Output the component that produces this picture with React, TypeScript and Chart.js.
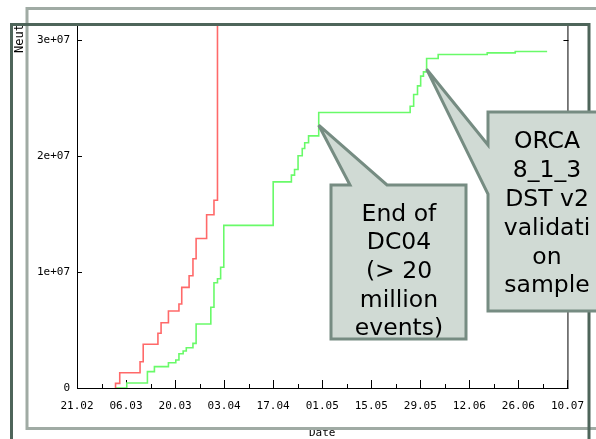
import React, { useEffect, useRef } from "react";
import { Chart, registerables } from "chart.js";

Chart.register(...registerables);

// ---- axis ticks ----
const xTickDays = [0, 14, 28, 42, 56, 70, 84, 98, 112, 126, 140];
const xTickLabels = ["21.02", "06.03", "20.03", "03.04", "17.04", "01.05", "15.05", "29.05", "12.06", "26.06", "10.07"];
const yTickValues = [0, 1e7, 2e7, 3e7];
const yTickLabels = ["0", "1e+07", "2e+07", "3e+07"];

// ---- series (days after 21.02, cumulative events) ----
const redDays = [11.0, 11.0, 12.2, 18.0, 18.9, 23.1, 24.0, 26.1, 29.1, 29.9, 32.0, 33.1, 34.0, 37.0, 39.1, 40.1];
const redEvents = [0, 0.4e6, 1.32e6, 2.27e6, 3.77e6, 4.72e6, 5.63e6, 6.64e6, 7.24e6, 8.68e6, 9.68e6, 11.15e6, 12.9e6, 14.94e6, 16.2e6, 45e6];

const greenDays = [11.0, 14.2, 20.1, 22.1, 26.1, 28.2, 29.1, 30.3, 31.2, 33.1, 34.0, 38.2, 39.1, 40.1, 41.0, 41.9, 56.0, 61.2, 62.1, 63.1, 64.3, 65.0, 66.1, 69.0, 95.1, 96.1, 97.2, 98.1, 98.9, 99.8, 103.1, 117.1, 125.1, 134.2];
const greenEvents = [0, 0.43e6, 1.41e6, 1.84e6, 2.18e6, 2.41e6, 2.96e6, 3.19e6, 3.47e6, 3.85e6, 5.52e6, 6.96e6, 9.08e6, 9.42e6, 10.41e6, 14.03e6, 17.78e6, 18.36e6, 18.85e6, 20.03e6, 20.66e6, 21.15e6, 21.75e6, 23.77e6, 24.31e6, 25.32e6, 26.06e6, 26.9e6, 27.27e6, 28.42e6, 28.77e6, 28.91e6, 29.03e6, 29.03e6];

// ---- callouts ----
const dc04Lines = ["End of", "DC04", "(> 20", "million", "events)"];
const dc04Tip = [69.0, 22.67e6];
const orcaLines = ["ORCA", "8_1_3", "DST v2", "validati", "on", "sample"];
const orcaTip = [99.8, 27.5e6];

const MONO = '"DejaVu Sans Mono", monospace';

function drawCallout(ctx: CanvasRenderingContext2D, pts: number[][], lines: string[], cx: number, base0: number, step: number) {
  ctx.beginPath();
  pts.forEach(([px, py], i) => (i ? ctx.lineTo(px, py) : ctx.moveTo(px, py)));
  ctx.closePath();
  ctx.fillStyle = "#d0dad4";
  ctx.fill();
  ctx.lineWidth = 3;
  ctx.lineJoin = "miter";
  ctx.miterLimit = 3;
  ctx.strokeStyle = "#768c82";
  ctx.stroke();
  ctx.fillStyle = "#000";
  ctx.font = '23.5px "DejaVu Sans"';
  ctx.textAlign = "center";
  ctx.textBaseline = "alphabetic";
  lines.forEach((t, i) => ctx.fillText(t, cx, base0 + i * step));
}

const decorPlugin = {
  id: "decor",
  beforeDatasetsDraw(chart: any) {
    const { ctx, chartArea: a, scales } = chart;
    const x = scales.x;
    const y = scales.y;
    ctx.save();
    ctx.strokeStyle = "#000";
    ctx.lineWidth = 1;
    ctx.beginPath();
    ctx.moveTo(a.left + 0.5, a.top);
    ctx.lineTo(a.left + 0.5, a.bottom + 0.5);
    ctx.lineTo(a.right + 0.5, a.bottom + 0.5);
    ctx.lineTo(a.right + 0.5, a.top);
    // x ticks (inward)
    for (let i = 0; i < xTickDays.length; i++) {
      const px = Math.round(x.getPixelForValue(xTickDays[i])) + 0.5;
      ctx.moveTo(px, a.bottom);
      ctx.lineTo(px, a.bottom - 8);
      if (i < xTickDays.length - 1) {
        const mx = Math.round(x.getPixelForValue((xTickDays[i] + xTickDays[i + 1]) / 2)) + 0.5;
        ctx.moveTo(mx, a.bottom);
        ctx.lineTo(mx, a.bottom - 4);
      }
    }
    // y ticks (inward, both sides)
    for (const v of yTickValues) {
      const py = Math.round(y.getPixelForValue(v)) + 0.5;
      ctx.moveTo(a.left, py);
      ctx.lineTo(a.left + 5, py);
      ctx.moveTo(a.right + 1, py);
      ctx.lineTo(a.right - 4, py);
    }
    ctx.stroke();
    ctx.restore();
  },
  afterDraw(chart: any) {
    const { ctx, scales } = chart;
    const x = scales.x;
    const y = scales.y;
    ctx.save();
    // light frame
    ctx.lineWidth = 3;
    ctx.strokeStyle = "#a0aba4";
    ctx.beginPath();
    ctx.moveTo(600, 8.5);
    ctx.lineTo(27, 8.5);
    ctx.lineTo(27, 428.5);
    ctx.lineTo(600, 428.5);
    ctx.stroke();
    // dark frame
    ctx.strokeStyle = "#4e655a";
    ctx.beginPath();
    ctx.moveTo(11.5, 445);
    ctx.lineTo(11.5, 24.5);
    ctx.lineTo(589, 24.5);
    ctx.lineTo(589, 445);
    ctx.stroke();

    // DC04 callout
    const t1x = x.getPixelForValue(dc04Tip[0]);
    const t1y = y.getPixelForValue(dc04Tip[1]);
    drawCallout(
      ctx,
      [[331, 185], [350, 185], [t1x, t1y], [387, 185], [466, 185], [466, 339], [331, 339]],
      dc04Lines,
      399,
      220.7,
      28.6
    );
    // ORCA callout
    const t2x = x.getPixelForValue(orcaTip[0]);
    const t2y = y.getPixelForValue(orcaTip[1]);
    drawCallout(
      ctx,
      [[488, 112], [612, 112], [612, 311], [488, 311], [488, 194], [t2x, t2y], [488, 145]],
      orcaLines,
      547,
      148.3,
      28.8
    );
    ctx.restore();
  },
};

export default function App() {
  const ref = useRef<HTMLCanvasElement>(null);
  useEffect(() => {
    document.body.style.margin = "0";
    const chart = new Chart(ref.current as HTMLCanvasElement, {
      type: "line",
      data: {
        datasets: [
          {
            label: "red",
            data: redDays.map((d, i) => ({ x: d, y: redEvents[i] })),
            stepped: true,
            borderColor: "rgb(255,105,105)",
            borderWidth: 1.6,
            pointRadius: 0,
            fill: false,
          },
          {
            label: "green",
            data: greenDays.map((d, i) => ({ x: d, y: greenEvents[i] })),
            stepped: true,
            borderColor: "rgb(105,250,105)",
            borderWidth: 1.6,
            pointRadius: 0,
            fill: false,
          },
        ],
      },
      options: {
        animation: false,
        responsive: false,
        devicePixelRatio: 1,
        layout: { padding: { left: 0, top: 24, right: 24, bottom: 0 } },
        plugins: { legend: { display: false }, tooltip: { enabled: false } },
        scales: {
          x: {
            type: "linear",
            min: 0,
            max: 140,
            grid: { display: false, drawTicks: false },
            border: { display: false },
            afterBuildTicks: (s: any) => {
              s.ticks = xTickDays.map((v) => ({ value: v }));
            },
            afterFit: (s: any) => {
              s.height = 51;
            },
            ticks: {
              autoSkip: false,
              maxRotation: 0,
              padding: 12,
              color: "#000",
              font: { family: MONO, size: 11 },
              callback: (_v: any, i: number) => xTickLabels[i],
            },
            title: {
              display: true,
              text: "Date",
              color: "#000",
              font: { family: MONO, size: 11, lineHeight: 1 },
              padding: 0,
            },
          },
          y: {
            type: "linear",
            min: 0,
            max: 3.14e7,
            grid: { display: false, drawTicks: false },
            border: { display: false },
            afterBuildTicks: (s: any) => {
              s.ticks = yTickValues.map((v) => ({ value: v }));
            },
            afterFit: (s: any) => {
              s.width = 77;
            },
            ticks: {
              padding: 7,
              color: "#000",
              font: { family: MONO, size: 11 },
              callback: (_v: any, i: number) => yTickLabels[i],
            },
            title: {
              display: true,
              text: "Neut",
              align: "end",
              color: "#000",
              font: { family: MONO, size: 12 },
              padding: { top: 12.8, bottom: 0 },
            },
          },
        },
      },
      plugins: [decorPlugin],
    } as any);
    return () => chart.destroy();
  }, []);
  return (
    <canvas
      ref={ref}
      width={596}
      height={439}
      style={{ position: "fixed", left: 0, top: 0, width: 596, height: 439, display: "block" }}
    />
  );
}
